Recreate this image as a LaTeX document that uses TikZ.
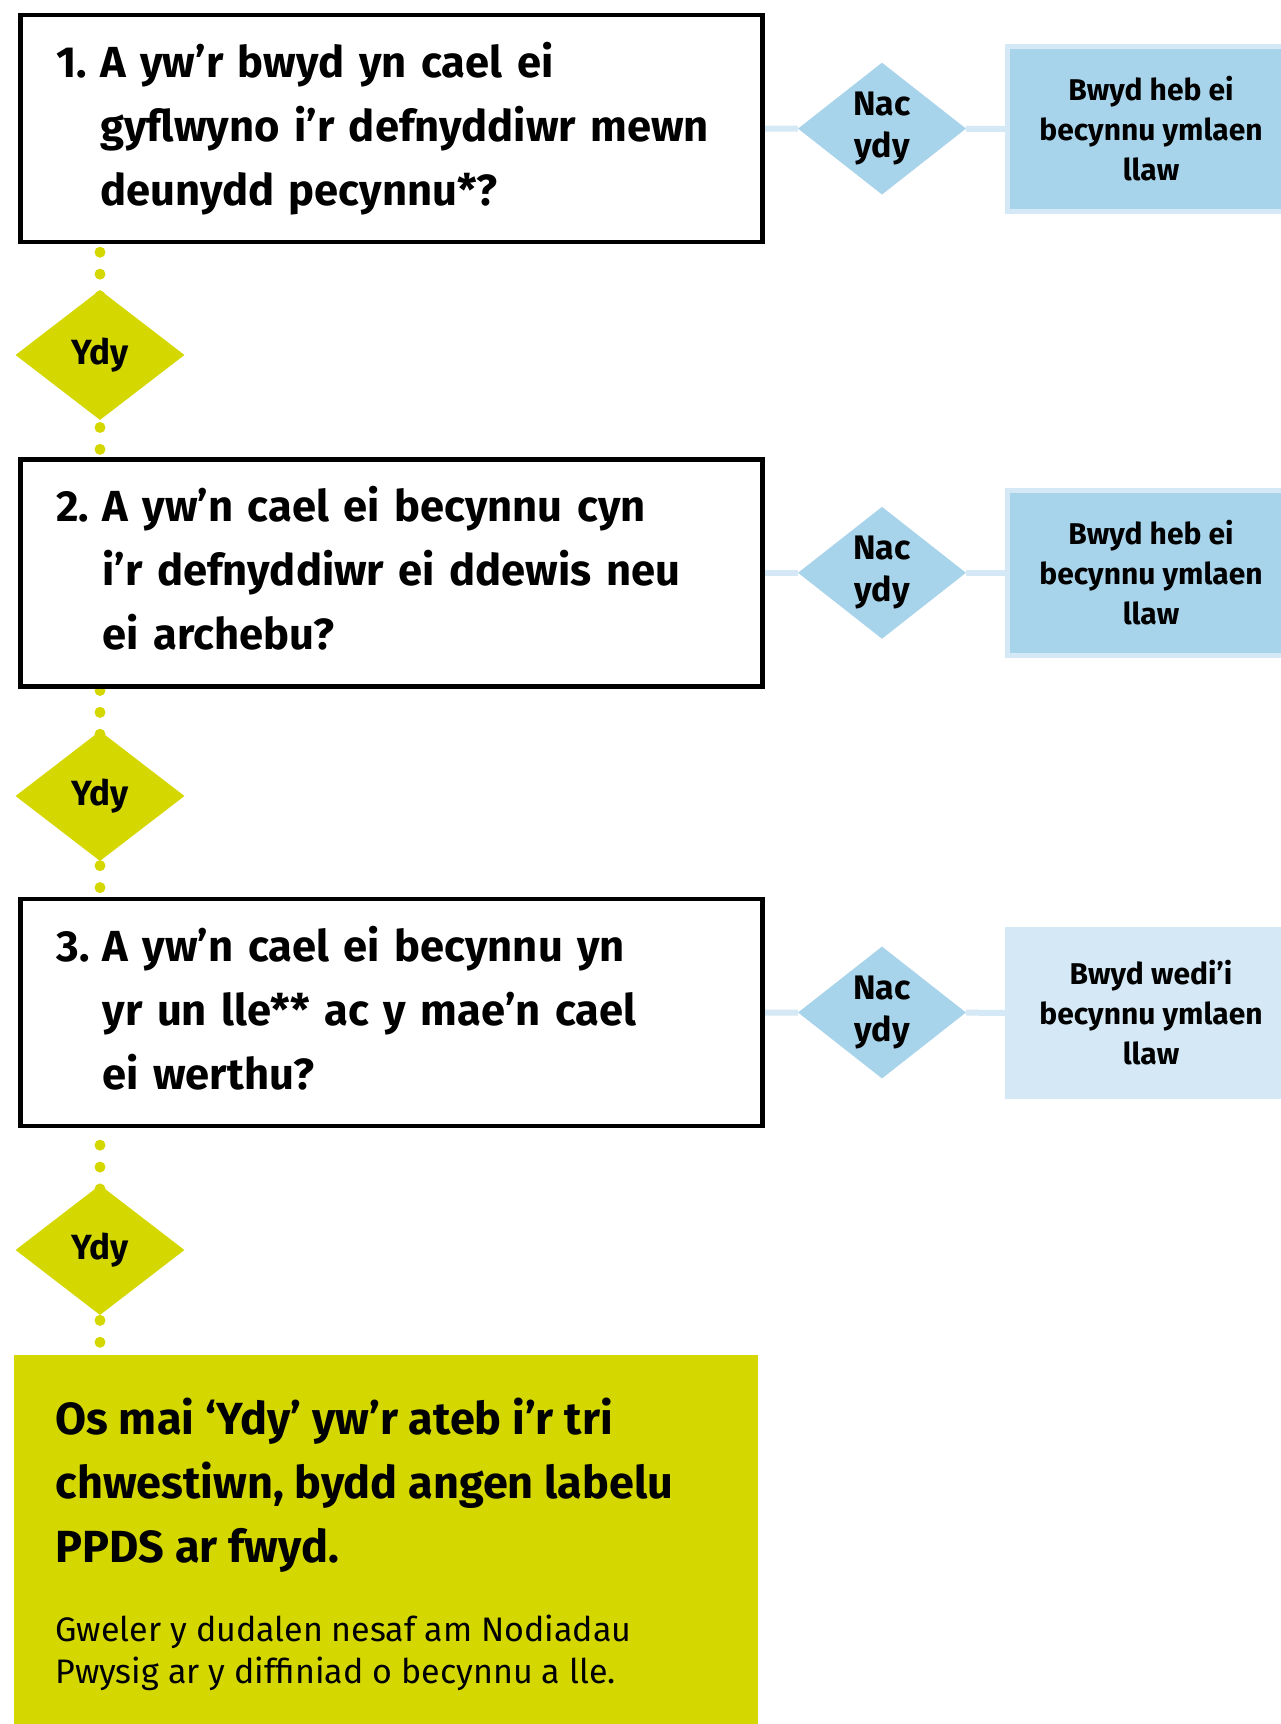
\documentclass[tikz,border=0pt]{standalone}
\usepackage{fontspec}
\setmainfont{Fira Sans}
\usetikzlibrary{shapes.geometric,backgrounds}
\definecolor{lime}{RGB}{212,216,0}
\definecolor{dblue}{RGB}{168,212,235}
\definecolor{lblue}{RGB}{212,233,245}
\begin{document}
\begin{tikzpicture}[x=1pt,y=-1pt,
  qbox/.style={rectangle,draw=black,line width=4.5pt,fill=white,minimum width=742pt,minimum height=227pt,text width=670pt,inner xsep=36pt,inner ysep=0pt,align=left,font=\fontsize{43.5}{64}\selectfont\bfseries},
  ydiam/.style={diamond,fill=lime,minimum width=169pt,minimum height=130pt,inner sep=0pt,font=\fontsize{35}{40}\selectfont\bfseries},
  ndiam/.style={diamond,fill=dblue,minimum width=168pt,minimum height=132pt,inner sep=0pt,align=center,font=\fontsize{34}{42}\selectfont\bfseries},
  bbox/.style={rectangle,fill=dblue,draw=lblue,line width=5pt,minimum width=287pt,minimum height=165pt,inner sep=0pt,align=center,font=\fontsize{30}{40}\selectfont\bfseries},
  cbox/.style={rectangle,fill=lblue,minimum width=292pt,minimum height=172pt,inner sep=0pt,align=center,font=\fontsize{30}{40}\selectfont\bfseries},
  rbox/.style={rectangle,fill=lime,minimum width=744pt,minimum height=379pt,text width=660pt,inner xsep=42pt,inner ysep=0pt,align=left,font=\fontsize{45}{64}\selectfont},
  dots/.style={draw=lime,line width=11pt,line cap=round,dash pattern=on 0pt off 21.9pt},
  nline/.style={draw=lblue,line width=6pt}]
\useasboundingbox (0,0) rectangle (1280,1724);

\node[qbox] (q1) at (391.5,128.6) {\begin{tabular}{@{}l@{\hspace{0.3em}}l@{}}1. & A yw’r bwyd yn cael ei\\ & gyflwyno i’r defnyddiwr mewn\\ & deunydd pecynnu*?\end{tabular}};
\node[qbox] (q2) at (391.5,572.8) {\begin{tabular}{@{}l@{\hspace{0.3em}}l@{}}2. & A yw’n cael ei becynnu cyn\\ & i’r defnyddiwr ei ddewis neu\\ & ei archebu?\end{tabular}};
\node[qbox] (q3) at (391.5,1012.5) {\begin{tabular}{@{}l@{\hspace{0.3em}}l@{}}3. & A yw’n cael ei becynnu yn\\ & yr un lle** ac y mae’n cael\\ & ei werthu?\end{tabular}};

\node[ydiam] (y1) at (100,355) {Ydy};
\node[ydiam] (y2) at (100,796) {Ydy};
\node[ydiam] (y3) at (100,1250) {Ydy};

\node[ndiam] (n1) at (882,128.6) {Nac\\ydy};
\node[ndiam] (n2) at (882,572.8) {Nac\\ydy};
\node[ndiam] (n3) at (882,1012.5) {Nac\\ydy};

\node[bbox] (b1) at (1151,129) {Bwyd heb ei\\becynnu ymlaen\\llaw};
\node[bbox] (b2) at (1151,572.8) {Bwyd heb ei\\becynnu ymlaen\\llaw};
\node[cbox] (b3) at (1151,1012.8) {Bwyd wedi’i\\becynnu ymlaen\\llaw};

\node[rbox] (res) at (385.5,1544.5) {{\fontsize{45}{64}\selectfont\bfseries\spaceskip=0pt\xspaceskip=0pt Os mai ‘Ydy’ yw’r ateb i’r tri\\chwestiwn, bydd angen labelu\\PPDS ar fwyd.\par}\vspace{37pt}{\fontsize{34}{42}\selectfont\spaceskip=0pt\xspaceskip=0pt Gweler y dudalen nesaf am Nodiadau\\Pwysig ar y diffiniad o becynnu a lle.\par}};

\begin{scope}[on background layer]
\fill[white] (0,0) rectangle (1280,1724);
\draw[dots,dash phase=14] (y1 |- q1.south) -- (y1 |- q2.north);
\draw[dots,dash phase=20] (y2 |- q2.south) -- (y2 |- q3.north);
\draw[dots,dash phase=5] (y3 |- q3.south) -- (y3 |- res.north);
\draw[nline] (q1.east) -- (n1) -- (b1.west);
\draw[nline] (q2.east) -- (n2) -- (b2.west);
\draw[nline] (q3.east) -- (n3) -- (b3.west);
\end{scope}
\end{tikzpicture}
\end{document}
